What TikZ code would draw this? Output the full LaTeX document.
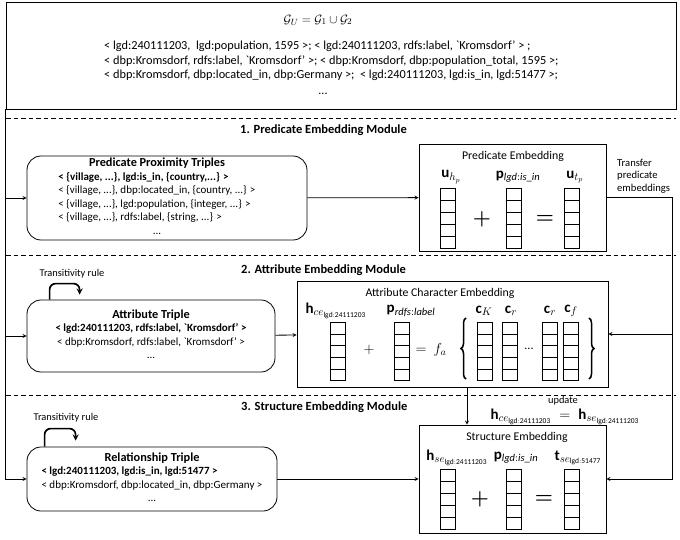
\documentclass[tikz,border=0pt]{standalone}
\usepackage{fontspec}
\setmainfont{Carlito}
\usepackage{amsmath}
\usetikzlibrary{matrix,decorations.pathreplacing,calc,positioning}

\newcommand{\boxtitle}{\fontsize{12.3}{14}\selectfont\bfseries}
\newcommand{\lgdsub}{\mathrm{lgd{:}24111203}}

\tikzset{
	panel/.style={draw, line width=0.8pt, inner sep=0pt},
	tribox/.style={draw, line width=0.8pt, rounded corners=14pt, align=center,
		font=\fontsize{11}{13.5}\selectfont},
	sepline/.style={line width=0.6pt, dash pattern=on 4.5pt off 3pt},
	flow/.style={->, line width=0.8pt},
	loopline/.style={->, line width=1.7pt, rounded corners=6pt},
	cellvec/.style={matrix of nodes, nodes in empty cells, row sep=-0.8pt,
		nodes={draw, line width=0.8pt, minimum width=15pt, minimum height=#1, inner sep=0pt}},
	cellvec/.default=12pt,
	vlabel/.style={font=\fontsize{15}{17}\selectfont},
	paneltitle/.style={font=\fontsize{11.8}{13}\selectfont},
	modtitle/.style={font=\fontsize{12.5}{14}\selectfont\bfseries, anchor=west},
	rulenote/.style={font=\fontsize{10.4}{12}\selectfont},
	bigop/.style={font=\fontsize{22}{22}\selectfont},
	bracket/.style={decorate, decoration={brace, amplitude=5pt}, line width=1.5pt}
}

% one embedding column: name, x, top y, cell height
\newcommand{\embVector}[4]
{
	\matrix [cellvec=#4, anchor=north] (#1) at (#2,#3) {
		{}\\
		{}\\
		{}\\
		{}\\
		{}\\
	};
}

\begin{document}
\begin{tikzpicture}[x=1pt,y=-1pt,>=stealth,every node/.style={inner sep=0pt}]
\useasboundingbox (0,0) rectangle (680,540);

% unified graph
\node[panel, minimum width=670pt, minimum height=107pt] (gbox) at (341,55.5) {};
\node[font=\fontsize{13}{15}\selectfont] (gtitle) at (318,20) {$\mathcal{G}_U = \mathcal{G}_1 \cup \mathcal{G}_2$};
\node[align=left, anchor=north west, font=\fontsize{12.3}{14.5}\selectfont] (gtriples) at (104,41) {%
	< lgd:240111203,\ \ lgd:population, 1595 >; < lgd:240111203, rdfs:label, \textasciigrave Kromsdorf’ > ;\\
	< dbp:Kromsdorf, rdfs:label, \textasciigrave Kromsdorf’ >; < dbp:Kromsdorf, dbp:population\_total, 1595 >;\\
	< dbp:Kromsdorf, dbp:located\_in, dbp:Germany >;\ \ < lgd:240111203, lgd:is\_in, lgd:51477 >;};
\node[font=\fontsize{12}{13}\selectfont] (gdots) at (323,94) {...};

\draw[sepline] (6,118) -- (676,118);
\draw[sepline] (6,255) -- (676,255);
\draw[sepline] (6,395) -- (676,395);

\node[modtitle] (mod1) at (240,130) {1. Predicate Embedding Module};
\node[modtitle] (mod2) at (241,270) {2. Attribute Embedding Module};
\node[modtitle] (mod3) at (241,407) {3. Structure Embedding Module};

% 1. predicate
\node[tribox, minimum width=280pt, minimum height=84pt] (pred) at (167,198) {%
	\begin{tabular}{@{}l@{}}
	\multicolumn{1}{@{}c@{}}{\boxtitle Predicate Proximity Triples}\\
	\textbf{< \{village, ...\}, lgd:is\_in, \{country,...\} >}\\
	< \{village, ...\}, dbp:located\_in, \{country, ...\} >\\
	< \{village, ...\}, lgd:population, \{integer, ...\} >\\
	< \{village, ...\}, rdfs:label, \{string, ...\} >\\
	\multicolumn{1}{@{}c@{}}{...}
	\end{tabular}\hspace*{20pt}};

\node[panel, minimum width=187pt, minimum height=107pt] (predemb) at (512.5,197.5) {};
\node[paneltitle] (predembtitle) at (513,156) {Predicate Embedding};
\node[vlabel] (uhp) at (451,177) {$\mathbf{u}_{h_p}$};
\node[vlabel] (plgd) at (518,177) {$\mathbf{p}_{\mathit{lgd{:}is\_in}}$};
\node[vlabel] (utp) at (575,177) {$\mathbf{u}_{t_p}$};
\embVector{uhvec}{448}{188}{12pt}
\embVector{pvec}{514}{188}{12pt}
\embVector{utvec}{572}{188}{12pt}
\node[bigop] (predplus) at (482,219) {$\boldsymbol{+}$};
\node[bigop] (predeq) at (545,219) {$\boldsymbol{=}$};

\node[align=left, anchor=west, font=\fontsize{10.6}{12.5}\selectfont] (transfer) at (617,176) {Transfer\\predicate\\embeddings};

% 2. attribute
\node[rulenote] (attrrule) at (72,274) {Transitivity rule};
\node[tribox, minimum width=248pt, minimum height=72pt] (attr) at (151,336) {%
	\begin{tabular}{@{}c@{}}
	{\boxtitle Attribute Triple}\\
	\textbf{< lgd:240111203, rdfs:label, \textasciigrave Kromsdorf’ >}\\
	< dbp:Kromsdorf, rdfs:label, \textasciigrave Kromsdorf’ >\\
	...
	\end{tabular}};
\draw[loopline] ([xshift=23pt]attr.north west) |- ++(30,-16) -- ++(0,11);

\node[panel, minimum width=311pt, minimum height=106pt] (attremb) at (452.5,334) {};
\node[paneltitle] (attrembtitle) at (440,293) {Attribute Character Embedding};
\node[vlabel] (hce) at (336,311) {$\mathbf{h}_{ce_{\lgdsub}}$};
\node[vlabel] (prdfs) at (411,311) {$\mathbf{p}_{\mathit{rdfs{:}label}}$};
\node[vlabel] (ck) at (484,311) {$\mathbf{c}_K$};
\node[vlabel] (cr) at (511,311) {$\mathbf{c}_r$};
\node[vlabel] (crr) at (550,311) {$\mathbf{c}_r$};
\node[vlabel] (cf) at (571,311) {$\mathbf{c}_f$};
\embVector{hcevec}{338}{322}{11.6pt}
\embVector{prdfsvec}{402}{322}{11.6pt}
\embVector{ckvec}{485}{322}{11.6pt}
\embVector{crvec}{510}{322}{11.6pt}
\embVector{crrvec}{550}{322}{11.6pt}
\embVector{cfvec}{571}{322}{11.6pt}
\node[font=\fontsize{14}{14}\selectfont] (attrplus) at (369,350) {$+$};
\node[font=\fontsize{14}{14}\selectfont] (attreq) at (431,350) {$=\ f_a$};
\node[font=\fontsize{12}{12}\selectfont] (cdots) at (529,349) {...};
\draw[bracket] (466,379) -- (466,318);
\draw[bracket] (589,318) -- (589,379);

% 3. structure
\node[rulenote] (relrule) at (66,418) {Transitivity rule};
\node[tribox, minimum width=250pt, minimum height=64pt] (rel) at (152,479) {%
	\begin{tabular}{@{}l@{}}
	\multicolumn{1}{@{}c@{}}{\boxtitle Relationship Triple}\\
	\textbf{< lgd:240111203, lgd:is\_in, lgd:51477 >}\\
	< dbp:Kromsdorf, dbp:located\_in, dbp:Germany >\\
	\multicolumn{1}{@{}c@{}}{...}
	\end{tabular}};
\draw[loopline] ([xshift=18pt]rel.north west) |- ++(31,-18) -- ++(0,12);

\node[panel, minimum width=187pt, minimum height=108pt] (structemb) at (512.5,479) {};
\node[paneltitle] (structembtitle) at (517,437) {Structure Embedding};
\node[vlabel] (update) at (565,417) {$\mathbf{h}_{ce_{\lgdsub}} \;=\; \mathbf{h}_{se_{\lgdsub}}$};
\node[rulenote] (updateword) at (563,401) {update};
\node[vlabel] (hse) at (457,458) {$\mathbf{h}_{se_{\lgdsub}}$};
\node[vlabel] (plgds) at (516,458) {$\mathbf{p}_{\mathit{lgd{:}is\_in}}$};
\node[vlabel] (tse) at (578,458) {$\mathbf{t}_{se_{\mathrm{lgd{:}51477}}}$};
\embVector{hsevec}{448}{469}{12pt}
\embVector{psvec}{514}{469}{12pt}
\embVector{tsevec}{572}{469}{12pt}
\node[bigop] (structplus) at (480,499) {$\boldsymbol{+}$};
\node[bigop] (structeq) at (544,499) {$\boldsymbol{=}$};

% connectors
\draw[flow] (gbox.south west) |- (rel.west);
\draw[flow] (gbox.south west |- pred.west) -- (pred.west);
\draw[flow] (gbox.south west |- attr.west) -- (attr.west);
\draw[flow] (pred) -- (predemb);
\draw[flow] (attr) -- (attremb);
\draw[flow] (rel) -- (structemb);
\coordinate (turn) at (672,197.5);
\draw[line width=0.8pt] (predemb.east) -- (turn);
\draw[flow] (turn) |- (attremb.east);
\draw[flow] (turn) |- (structemb.east);
\draw[flow] ([xshift=14.5pt]attremb.south) -- ([xshift=14.5pt]attremb.south |- structemb.north);
\end{tikzpicture}
\end{document}
